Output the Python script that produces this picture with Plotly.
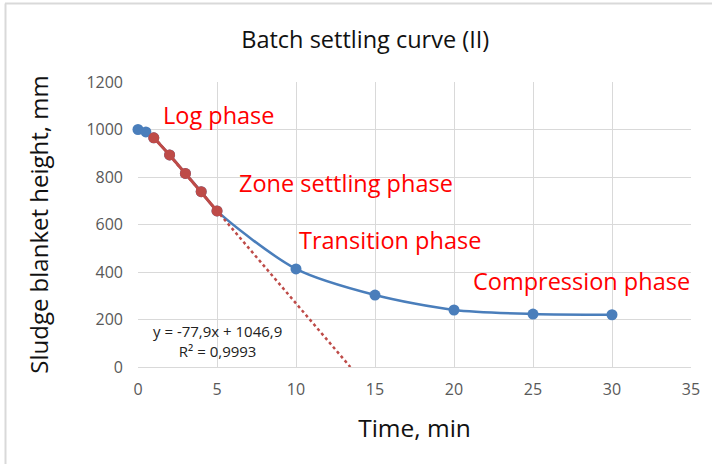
import plotly.graph_objects as go

# Data
time_all = [0, 0.5, 1, 2, 3, 4, 5, 10, 15, 20, 25, 30]
height_all = [1000, 990, 965, 893, 815, 738, 657, 413, 303, 240, 223, 220]
time_zone = [1, 2, 3, 4, 5]
height_zone = [965, 893, 815, 738, 657]
slope = -77.9
intercept = 1046.9
trend_x = [1, intercept / -slope]
trend_y = [slope * x + intercept for x in trend_x]

BLUE = "#4a7ebb"
RED = "#be4b48"
FONT = "Open Sans"

fig = go.Figure()
fig.add_trace(go.Scatter(x=time_all, y=height_all, mode="lines+markers",
                         line=dict(color=BLUE, width=2.5, shape="spline", smoothing=0.8),
                         marker=dict(color=BLUE, size=11), showlegend=False, cliponaxis=False))
fig.add_trace(go.Scatter(x=trend_x, y=trend_y, mode="lines",
                         line=dict(color=RED, width=2.5, dash="dot"), showlegend=False))
fig.add_trace(go.Scatter(x=time_zone, y=height_zone, mode="lines+markers",
                         line=dict(color=RED, width=3),
                         marker=dict(color=RED, size=11), showlegend=False, cliponaxis=False))

ann_red = dict(font=dict(family=FONT, size=23.5, color="#ff0000"), showarrow=False,
               xanchor="left", yanchor="middle", xref="x", yref="y")
fig.add_annotation(x=1.45, y=1061, text="Log phase", **ann_red)
fig.add_annotation(x=6.25, y=775, text="Zone settling phase", **ann_red)
fig.add_annotation(x=10.05, y=535, text="Transition phase", **ann_red)
fig.add_annotation(x=21.05, y=362, text="Compression phase", **ann_red)
fig.add_annotation(x=5.06, y=108, text="y = -77,9x + 1046,9<br>R² = 0,9993",
                   font=dict(family=FONT, size=15, color="#222222"), showarrow=False,
                   xanchor="center", yanchor="middle", align="center")

fig.update_layout(
    width=712, height=464,
    margin=dict(l=138, r=21, t=82, b=97),
    paper_bgcolor="white", plot_bgcolor="white",
    title=dict(text="Batch settling curve (II)", x=0.513, xanchor="center",
               y=1 - 40 / 464, yanchor="middle",
               font=dict(family=FONT, size=23.5, color="#111111")),
    xaxis=dict(range=[0, 35], dtick=5, showgrid=True, gridcolor="#d9d9d9", gridwidth=1,
               zeroline=False, showline=True, linecolor="#d9d9d9", linewidth=1,
               tickfont=dict(family=FONT, size=16, color="#595959"), ticks="",
               ticklabelstandoff=8,
               title=dict(text="Time, min", font=dict(family=FONT, size=24.5, color="#111111"),
                          standoff=20)),
    yaxis=dict(range=[0, 1200], dtick=200, showgrid=True, gridcolor="#d9d9d9", gridwidth=1,
               zeroline=False, showline=False,
               tickfont=dict(family=FONT, size=16, color="#595959"), ticks="",
               ticklabelstandoff=14,
               title=dict(text="Sludge blanket height, mm",
                          font=dict(family=FONT, size=24, color="#111111"), standoff=31)),
    shapes=[
        dict(type="line", xref="paper", yref="paper", x0=(5 - 138) / 553, x1=1.1,
             y0=(367 - 3.5) / 285, y1=(367 - 3.5) / 285, line=dict(color="#d9d9d9", width=2)),
        dict(type="line", xref="paper", yref="paper", x0=(5.5 - 138) / 553, x1=(5.5 - 138) / 553,
             y0=(367 - 3.5) / 285, y1=-0.5, line=dict(color="#d9d9d9", width=2)),
    ],
)

fig.write_html("out.html")
